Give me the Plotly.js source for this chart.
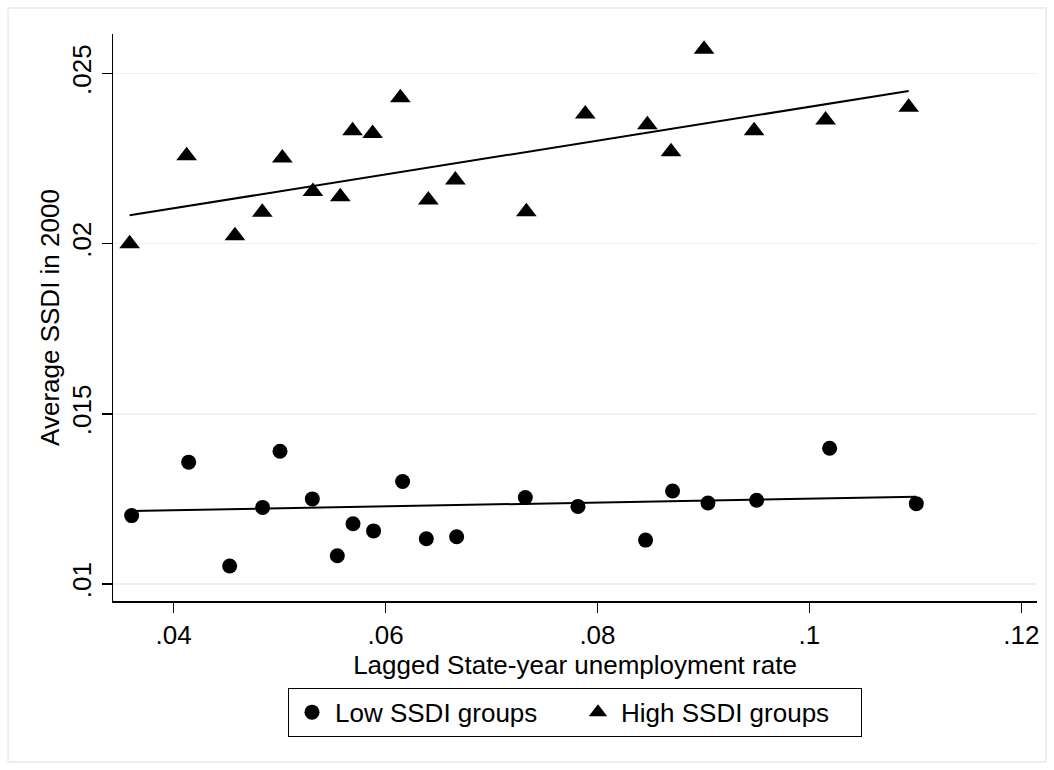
<!DOCTYPE html>
<html>
<head>
<meta charset="utf-8">
<script src="https://cdn.plot.ly/plotly-3.0.1.min.js"></script>
<style>html,body{margin:0;padding:0;background:#fff;}#chart{width:1054px;height:770px;}</style>
</head>
<body>
<div id="chart"></div>
<script>
// Low SSDI groups (circles)
const lowX = [0.03604, 0.04142, 0.04529, 0.04840, 0.05004, 0.05309, 0.05545, 0.05693, 0.05887, 0.06161,
              0.06385, 0.06671, 0.07319, 0.07816, 0.08454, 0.08709, 0.09043, 0.09502, 0.10191, 0.11009];
const lowY = [0.01201, 0.01358, 0.01053, 0.01225, 0.01390, 0.01250, 0.01083, 0.01177, 0.01156, 0.01301,
              0.01133, 0.01139, 0.01254, 0.01228, 0.01129, 0.01273, 0.01238, 0.01246, 0.01399, 0.01236];
// High SSDI groups (triangles)
const highX = [0.03585, 0.04123, 0.04579, 0.04837, 0.05026, 0.05315, 0.05573, 0.05689, 0.05878, 0.06140,
               0.06404, 0.06659, 0.07329, 0.07885, 0.08471, 0.08694, 0.09006, 0.09478, 0.10153, 0.10937];
const highY = [0.02000, 0.02258, 0.02023, 0.02092, 0.02252, 0.02153, 0.02138, 0.02332, 0.02324, 0.02429,
               0.02128, 0.02187, 0.02094, 0.02381, 0.02349, 0.02270, 0.02571, 0.02332, 0.02363, 0.02401];
// Fitted lines (endpoints)
const lowFitX = [0.03604, 0.11009];
const lowFitY = [0.012145, 0.012565];
const highFitX = [0.03585, 0.10937];
const highFitY = [0.020833, 0.024486];
// Ticks
const xTickVals = [0.04, 0.06, 0.08, 0.10, 0.12];
const xTickText = ['.04', '.06', '.08', '.1', '.12'];
const yTickVals = [0.010, 0.015, 0.020, 0.025];
const yTickText = ['.01', '.015', '.02', '.025'];

const FONT = 'Liberation Sans, Arial, Helvetica, sans-serif';

const traces = [
  {x: lowX, y: lowY, type: 'scatter', mode: 'markers', name: 'Low SSDI groups',
   marker: {symbol: 'circle', size: 15, color: '#000'}},
  {x: highX, y: highY, type: 'scatter', mode: 'markers', name: 'High SSDI groups',
   marker: {symbol: 'triangle-up', size: 18, color: '#000'}},
  {x: lowFitX, y: lowFitY, type: 'scatter', mode: 'lines', showlegend: false,
   line: {color: '#000', width: 2}, hoverinfo: 'skip'},
  {x: highFitX, y: highFitY, type: 'scatter', mode: 'lines', showlegend: false,
   line: {color: '#000', width: 2}, hoverinfo: 'skip'}
];

const layout = {
  width: 1054, height: 770,
  margin: {l: 113, r: 17, t: 34, b: 169},
  paper_bgcolor: '#fff', plot_bgcolor: '#fff',
  font: {family: FONT, size: 26, color: '#000'},
  showlegend: true,
  xaxis: {
    range: [0.03428, 0.12148], tickvals: xTickVals, ticktext: xTickText,
    ticks: 'outside', ticklen: 10, tickwidth: 1.5, tickcolor: '#000',
    showline: true, linecolor: '#000', linewidth: 1.5, showgrid: false, zeroline: false,
    tickfont: {size: 26, family: FONT},
    title: {text: 'Lagged State-year unemployment rate', font: {size: 26, family: FONT}, standoff: 0}
  },
  yaxis: {
    range: [0.0095, 0.02616], tickvals: yTickVals, ticktext: yTickText, tickangle: -90,
    ticks: 'outside', ticklen: 10, tickwidth: 1.5, tickcolor: '#000',
    showline: true, linecolor: '#000', linewidth: 1.5,
    showgrid: true, gridcolor: '#eaf2f3', gridwidth: 1.5, zeroline: false,
    tickfont: {size: 26, family: FONT},
    title: {text: 'Average SSDI in 2000', font: {size: 26, family: FONT}, standoff: 0}
  },
  legend: {
    orientation: 'h', x: 0.5, xanchor: 'center', y: -0.153, yanchor: 'top',
    bordercolor: '#000', borderwidth: 1, bgcolor: '#fff',
    font: {size: 26, family: FONT}, entrywidth: 235, entrywidthmode: 'pixels',
    itemwidth: 36, itemsizing: 'trace'
  },
  shapes: [
    {type: 'rect', xref: 'paper', yref: 'paper', x0: -0.1136, x1: 1.0097, y0: -0.284, y1: 1.0459,
     line: {color: '#e4ecee', width: 1.5}, fillcolor: 'rgba(0,0,0,0)', layer: 'below'}
  ]
};

Plotly.newPlot('chart', traces, layout, {displayModeBar: false, staticPlot: true});
</script>
</body>
</html>
